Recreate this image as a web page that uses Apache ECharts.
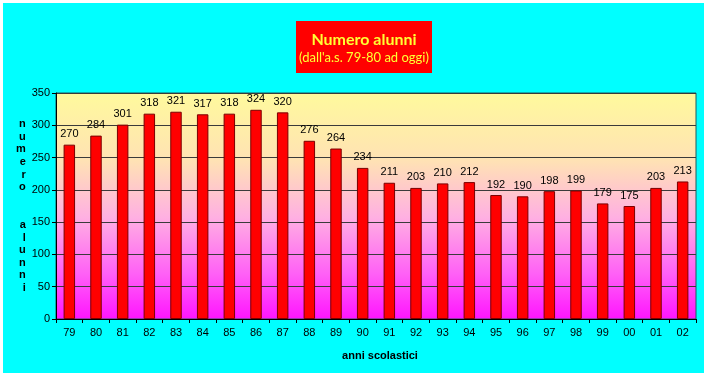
<!DOCTYPE html>
<html>
<head>
<meta charset="utf-8">
<script src="https://cdn.jsdelivr.net/npm/echarts@6/dist/echarts.min.js"></script>
<style>
  html, body { margin: 0; padding: 0; background: #fff; }
  #chart { width: 709px; height: 377px; }
</style>
</head>
<body>
<div id="chart"></div>
<script>
// school years (first year of each a.s.)
const years = ["79", "80", "81", "82", "83", "84", "85", "86", "87", "88", "89", "90",
  "91", "92", "93", "94", "95", "96", "97", "98", "99", "00", "01", "02"];
// number of pupils
const alunni = [270, 284, 301, 318, 321, 317, 318, 324, 320, 276, 264, 234,
  211, 203, 210, 212, 192, 190, 198, 199, 179, 175, 203, 213];

const yTitle = "numero  alunni";

const chart = echarts.init(document.getElementById("chart"), null, { renderer: "canvas" });

const font = "Liberation Sans, Arial, sans-serif";
const titleFont = "Comic Sans MS, Lato, sans-serif";

const option = {
  animation: false,
  backgroundColor: "transparent",
  graphic: [
    {
      type: "rect",
      z: -10,
      shape: { x: 3, y: 3, width: 701, height: 370 },
      style: { fill: "#00ffff" },
    },
    {
      type: "rect",
      z: 0,
      shape: { x: 296, y: 21, width: 136, height: 52 },
      style: { fill: "#ff0000" },
    },
  ],
  title: [
    {
      text: "Numero alunni",
      left: 364,
      top: 32,
      padding: 0,
      textAlign: "center",
      z: 5,
      textStyle: { color: "#ffff33", fontSize: 16, fontWeight: "bold", fontFamily: titleFont },
    },
    {
      text: "(dall'a.s. 79-80 ad oggi)",
      left: 364,
      top: 51,
      padding: 0,
      textAlign: "center",
      z: 5,
      textStyle: { color: "#ffff33", fontSize: 13, fontWeight: "normal", fontFamily: titleFont },
    },
  ],
  grid: {
    left: 56,
    right: 13,
    top: 93,
    bottom: 58,
    show: true,
    borderColor: "#1f5a5a",
    borderWidth: 1,
    backgroundColor: new echarts.graphic.LinearGradient(0, 0, 0, 1, [
      { offset: 0, color: "#fffa9c" },
      { offset: 0.3, color: "#ffe2b4" },
      { offset: 0.55, color: "#ffb0e2" },
      { offset: 0.8, color: "#ff60f6" },
      { offset: 1, color: "#ff14ff" },
    ]),
  },
  xAxis: {
    type: "category",
    data: years,
    name: "anni scolastici",
    nameLocation: "middle",
    nameGap: 31,
    nameTextStyle: { fontFamily: font, fontSize: 11, fontWeight: "bold", color: "#000", padding: [0, 0, 0, 8] },
    axisLine: { lineStyle: { color: "#000" } },
    axisTick: { show: true, length: 4, lineStyle: { color: "#000" } },
    axisLabel: { color: "#000", fontFamily: font, fontSize: 11, margin: 8 },
  },
  yAxis: {
    type: "value",
    min: 0,
    max: 350,
    interval: 50,
    name: yTitle.split("").join("\n"),
    nameLocation: "middle",
    nameRotate: 0,
    nameGap: 30,
    nameTextStyle: { fontFamily: font, fontSize: 11, fontWeight: "bold", color: "#000", lineHeight: 12.6 },
    axisLine: { show: true, lineStyle: { color: "#000" } },
    axisTick: { show: true, length: 4, lineStyle: { color: "#000" } },
    axisLabel: { color: "#000", fontFamily: font, fontSize: 11, margin: 6 },
    splitLine: { lineStyle: { color: "#3a3a3a", width: 1 } },
  },
  series: [
    {
      type: "bar",
      data: alunni,
      barWidth: "43%",
      itemStyle: { color: "#ff0000", borderColor: "#7a0000", borderWidth: 1 },
      label: { show: true, position: "top", distance: 5, color: "#000", fontFamily: font, fontSize: 11 },
    },
  ],
};

chart.setOption(option);
</script>
</body>
</html>
